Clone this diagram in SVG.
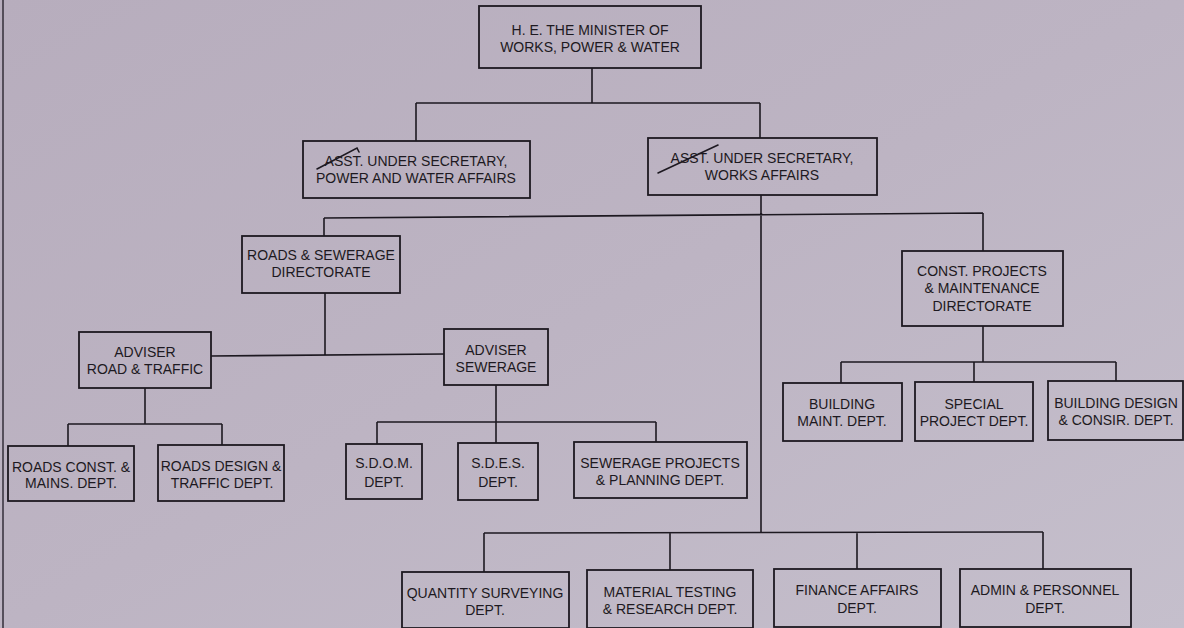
<svg xmlns="http://www.w3.org/2000/svg" width="1184" height="628" viewBox="0 0 1184 628">
<defs>
<linearGradient id="bg" x1="0" y1="0" x2="1" y2="1">
<stop offset="0" stop-color="#b7adbd"/>
<stop offset="0.5" stop-color="#bdb4c3"/>
<stop offset="1" stop-color="#c5bfcc"/>
</linearGradient>
<style>
.box{fill:none;stroke:#1d1921;stroke-width:1.8}
.ln{fill:none;stroke:#1d1921;stroke-width:1.6}
.t{font-family:"Liberation Sans",Arial,sans-serif;font-size:14px;fill:#1d1921;text-anchor:middle}
.mk{fill:none;stroke:#1d1921;stroke-width:1.6;stroke-linecap:round}
</style>
</defs>
<rect x="0" y="0" width="1184" height="628" fill="url(#bg)"/>
<line x1="3" y1="0" x2="3" y2="628" stroke="#2a2530" stroke-width="1.4"/>

<g id="connectors">
<path class="ln" d="M592,68 V103 M416,103 H760 M416,103 V141 M760,103 V138"/>
<path class="ln" d="M761,195 V533 M324,218 L983,213 M324,218 V236 M983,213 V251"/>
<path class="ln" d="M325,293 V355 M211,356 L444,354"/>
<path class="ln" d="M145,388 V424 M68,424 H222 M68,424 V446 M222,424 V445"/>
<path class="ln" d="M496,385 V422 M377,422 H656 M377,422 V444 M496,422 V443 M656,422 V442"/>
<path class="ln" d="M983,326 V362 M841,362 H1116 M841,362 V383 M974,362 V382 M1116,362 V381"/>
<path class="ln" d="M484,533 L1043,532 M484,533 V572 M670,533 V570 M857,532 V569 M1043,532 V569"/>
</g>

<g id="minister">
<rect class="box" x="479" y="6" width="222" height="62"/>
<text class="t" x="590" y="35">H. E. THE MINISTER OF</text>
<text class="t" x="590" y="52">WORKS, POWER &amp; WATER</text>
</g>
<g id="asst-power-water">
<rect class="box" x="303" y="141" width="227" height="57"/>
<text class="t" x="416" y="166">ASST. UNDER SECRETARY,</text>
<text class="t" x="416" y="183">POWER AND WATER AFFAIRS</text>
<path class="mk" d="M317,169 L357,148 L359,152"/>
</g>
<g id="asst-works">
<rect class="box" x="648" y="138" width="229" height="57"/>
<text class="t" x="762" y="163">ASST. UNDER SECRETARY,</text>
<text class="t" x="762" y="180">WORKS AFFAIRS</text>
<path class="mk" d="M658,173 L718,145"/>
</g>
<g id="roads-sewerage">
<rect class="box" x="242" y="236" width="158" height="57"/>
<text class="t" x="321" y="260">ROADS &amp; SEWERAGE</text>
<text class="t" x="321" y="277">DIRECTORATE</text>
</g>
<g id="adviser-road">
<rect class="box" x="79" y="332" width="132" height="56"/>
<text class="t" x="145" y="357">ADVISER</text>
<text class="t" x="145" y="374">ROAD &amp; TRAFFIC</text>
</g>
<g id="adviser-sewerage">
<rect class="box" x="444" y="329" width="104" height="56"/>
<text class="t" x="496" y="355">ADVISER</text>
<text class="t" x="496" y="372">SEWERAGE</text>
</g>
<g id="roads-const">
<rect class="box" x="8" y="446" width="126" height="55"/>
<text class="t" x="71" y="472">ROADS CONST. &amp;</text>
<text class="t" x="71" y="488">MAINS. DEPT.</text>
</g>
<g id="roads-design">
<rect class="box" x="158" y="445" width="126" height="56"/>
<text class="t" x="221" y="471">ROADS DESIGN &amp;</text>
<text class="t" x="222" y="488">TRAFFIC DEPT.</text>
</g>
<g id="sdom">
<rect class="box" x="346" y="444" width="76" height="55"/>
<text class="t" x="384" y="468">S.D.O.M.</text>
<text class="t" x="384" y="487">DEPT.</text>
</g>
<g id="sdes">
<rect class="box" x="458" y="443" width="80" height="57"/>
<text class="t" x="498" y="468">S.D.E.S.</text>
<text class="t" x="498" y="487">DEPT.</text>
</g>
<g id="sewerage-projects">
<rect class="box" x="574" y="442" width="173" height="56"/>
<text class="t" x="660" y="468">SEWERAGE PROJECTS</text>
<text class="t" x="660" y="485">&amp; PLANNING DEPT.</text>
</g>
<g id="const-projects">
<rect class="box" x="902" y="251" width="161" height="75"/>
<text class="t" x="982" y="276">CONST. PROJECTS</text>
<text class="t" x="982" y="293">&amp; MAINTENANCE</text>
<text class="t" x="982" y="311">DIRECTORATE</text>
</g>
<g id="building-maint">
<rect class="box" x="783" y="383" width="119" height="58"/>
<text class="t" x="842" y="409">BUILDING</text>
<text class="t" x="842" y="426">MAINT. DEPT.</text>
</g>
<g id="special-project">
<rect class="box" x="915" y="382" width="118" height="59"/>
<text class="t" x="974" y="409">SPECIAL</text>
<text class="t" x="974" y="426">PROJECT DEPT.</text>
</g>
<g id="building-design">
<rect class="box" x="1048" y="381" width="135" height="59"/>
<text class="t" x="1116" y="408">BUILDING DESIGN</text>
<text class="t" x="1116" y="425">&amp; CONSIR. DEPT.</text>
</g>
<g id="quantity-surveying">
<rect class="box" x="402" y="572" width="167" height="56"/>
<text class="t" x="485" y="598">QUANTITY SURVEYING</text>
<text class="t" x="485" y="615">DEPT.</text>
</g>
<g id="material-testing">
<rect class="box" x="587" y="570" width="166" height="58"/>
<text class="t" x="670" y="597">MATERIAL TESTING</text>
<text class="t" x="670" y="614">&amp; RESEARCH DEPT.</text>
</g>
<g id="finance-affairs">
<rect class="box" x="774" y="569" width="167" height="58"/>
<text class="t" x="857" y="595">FINANCE AFFAIRS</text>
<text class="t" x="857" y="613">DEPT.</text>
</g>
<g id="admin-personnel">
<rect class="box" x="960" y="569" width="171" height="58"/>
<text class="t" x="1045" y="595">ADMIN &amp; PERSONNEL</text>
<text class="t" x="1045" y="613">DEPT.</text>
</g>
</svg>
